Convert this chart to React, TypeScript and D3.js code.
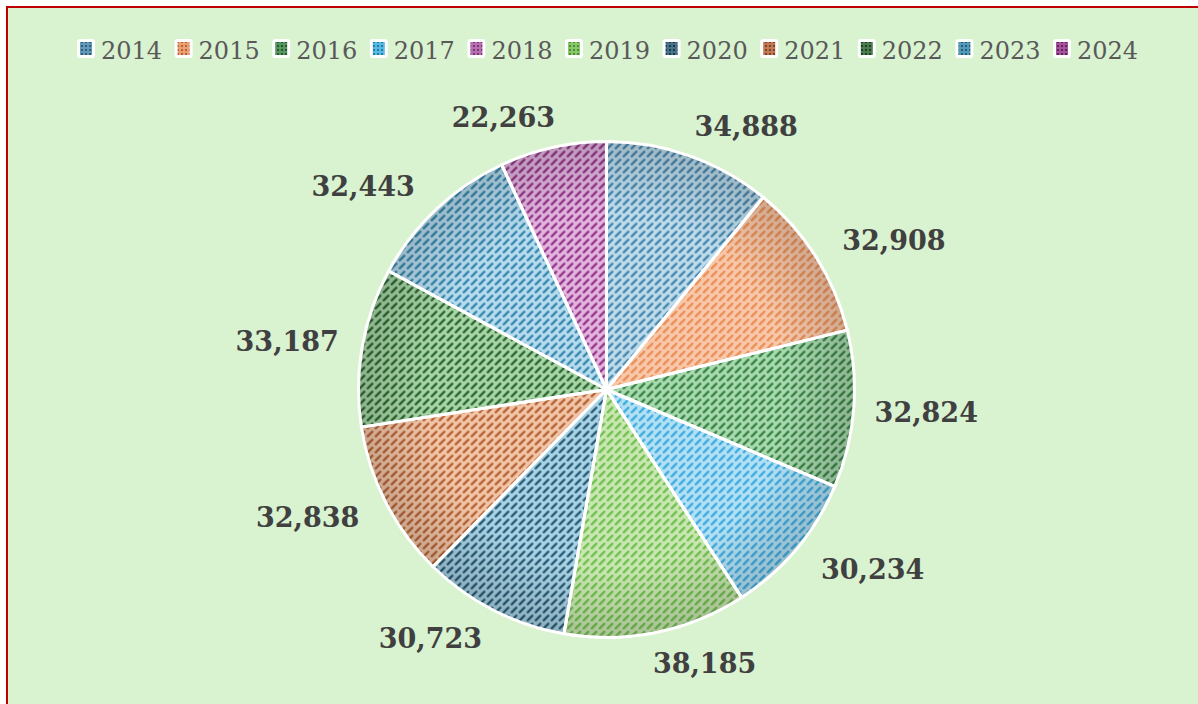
import React from 'react';
import * as d3 from 'd3';

// chart data
const years = ['2014', '2015', '2016', '2017', '2018', '2019', '2020', '2021', '2022', '2023', '2024'];
const counts = [34888, 32908, 32824, 30234, 0, 38185, 30723, 32838, 33187, 32443, 22263];

// pattern colours: background tint and dash colour per year
const bgColors = ['#bddcec', '#f7c9aa', '#a9dab0', '#b5e1f5', '#e7b9e3', '#c9e8b2', '#a9d3e6', '#f2c6a8', '#a8d6a6', '#b7dcee', '#e3b5df'];
const fgColors = ['#3d7ea6', '#e8874e', '#2d7a3a', '#2ea7dc', '#a74a9f', '#69ba45', '#1c4f68', '#b0592a', '#1f5a27', '#2a7ea6', '#8c2b83'];

const W = 1198;
const H = 704;
const cx = 606.5;
const cy = 389.5;
const radius = 248;

export default function App() {
  const pie = d3.pie<number>().sort(null).value(d => d)(counts);
  const arc = d3.arc<d3.PieArcDatum<number>>().innerRadius(0).outerRadius(radius);

  // legend layout
  const legendX = d3.scalePoint<string>().domain(years).range([101, 1077]);

  // label box size and spacing from the rim
  const labelW = 100;
  const labelH = 22;
  const gap = 20;
  const spread = 35; // pushes labels sideways near top/bottom, like Excel's best fit

  return (
    <svg width={W} height={H} style={{ position: 'fixed', left: 0, top: 0, background: '#fff' }}>
      <defs>
        {years.map((y, i) => (
          <pattern key={y} id={`pat-${y}`} width={8} height={8} patternUnits="userSpaceOnUse">
            <rect width={8} height={8} fill={bgColors[i]} />
            <line x1={0.5} y1={7.5} x2={6.5} y2={1.5} stroke={fgColors[i]} strokeWidth={2.2} />
          </pattern>
        ))}
        {years.map((y, i) => (
          <pattern key={`l${y}`} id={`lpat-${y}`} width={4} height={4} patternUnits="userSpaceOnUse">
            <rect width={4} height={4} fill={fgColors[i]} opacity={0.8} />
            <rect x={1} y={1} width={2} height={2} fill={d3.color(fgColors[i])!.darker(0.8).toString()} />
          </pattern>
        ))}
        <radialGradient id="rim" cx={cx} cy={cy} r={radius} gradientUnits="userSpaceOnUse">
          <stop offset="0.72" stopColor="#000" stopOpacity={0} />
          <stop offset="1" stopColor="#000" stopOpacity={0.16} />
        </radialGradient>
      </defs>

      <rect x={7} y={7} width={W} height={H} fill="#d9f2d0" stroke="#c00000" strokeWidth={2} />

      {/* legend */}
      <g>
        {years.map((y, i) => {
          const x = legendX(y)!;
          return (
            <g key={y}>
              <rect x={x - 24} y={39} width={18} height={19} rx={3} fill="#fff" />
              <rect x={x - 21} y={42} width={12} height={13} fill={`url(#lpat-${y})`} />
              <text x={x} y={59} fontFamily="'DejaVu Serif', serif" fontSize={24} fill="#595959">{y}</text>
            </g>
          );
        })}
      </g>

      {/* pie */}
      <g transform={`translate(${cx},${cy})`}>
        {pie.map((d, i) => (
          <path key={i} d={arc(d) || ''} fill={`url(#pat-${years[i]})`} />
        ))}
      </g>
      <circle cx={cx} cy={cy} r={radius} fill="url(#rim)" />
      <g transform={`translate(${cx},${cy})`}>
        {pie.map((d, i) => (
          <path key={i} d={arc(d) || ''} fill="none" stroke="#fff" strokeWidth={3} strokeLinejoin="round" />
        ))}
      </g>

      {/* data labels */}
      <g transform={`translate(${cx},${cy})`}>
        {pie.map((d, i) => {
          if (!d.value) return null;
          const a = (d.startAngle + d.endAngle) / 2;
          const s = Math.sin(a);
          const c = Math.cos(a);
          const px = (radius + gap) * s + s * labelW / 2 + Math.sign(s) * spread * Math.abs(c);
          const py = -(radius + gap) * c - c * labelH / 2;
          return (
            <text key={i} x={px} y={py} dy="0.36em" textAnchor="middle"
              fontFamily="'DejaVu Serif', serif" fontWeight="bold" fontSize={27} fill="#404040">
              {d3.format(',')(d.value)}
            </text>
          );
        })}
      </g>
    </svg>
  );
}
